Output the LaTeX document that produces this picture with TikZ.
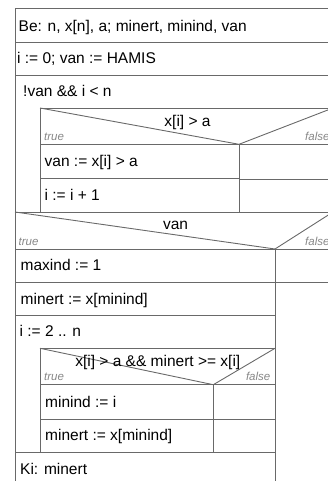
\documentclass[tikz,border=0pt]{standalone}
\usepackage{fontspec}
\setmainfont{Liberation Sans}
\definecolor{linegray}{RGB}{105,105,105}
\definecolor{labelgray}{RGB}{135,135,135}
\begin{document}
\begin{tikzpicture}[x=1pt,y=-1pt,
  rule/.style={draw=linegray, line width=0.9pt},
  stmt/.style={anchor=base west, inner sep=0pt, font=\fontsize{15.5}{18}\selectfont},
  cond/.style={anchor=base, inner sep=0pt, font=\fontsize{15.5}{18}\selectfont},
  branch/.style={anchor=base west, inner sep=0pt, text=labelgray,
                 font=\itshape\fontsize{11.5}{13}\selectfont}]
\useasboundingbox (0,0) rectangle (328,481);
\clip (0,0) rectangle (328,481);

% key corners of the structogram
\coordinate (apexA) at (239,144.3);   % inner if  x[i] > a
\coordinate (apexB) at (275,249);     % if van
\coordinate (apexC) at (213.3,384.7); % inner if in the for loop

% outer frame and sequence rows
\draw[rule] (333,8.3) -- (15,8.3) -- (15,490);
\draw[rule] (15,42) -- (333,42);
\draw[rule] (15,75) -- (333,75);

% while loop body
\draw[rule] (40,212) -- (40,108) -- (333,108);
% if x[i] > a
\draw[rule] (40,108) -- (apexA) -- (333,108);
\draw[rule] (40,144.3) -- (333,144.3);
\draw[rule] (apexA) -- (239,212);
\draw[rule] (40,178.3) -- (239,178.3);
\draw[rule] (239,179.3) -- (333,179.3);
\draw[rule] (15,212) -- (333,212);

% if van
\draw[rule] (15,212) -- (apexB) -- (333,212);
\draw[rule] (15,249) -- (333,249);
\draw[rule] (apexB) -- (275,490);
\draw[rule] (15,282.3) -- (275,282.3);
\draw[rule] (275,282.8) -- (333,282.8);
\draw[rule] (15,315) -- (275,315);

% for loop body
\draw[rule] (40,452.3) -- (40,348.3) -- (275,348.3);
% if x[i] > a && minert >= x[i]
\draw[rule] (40,348.3) -- (apexC) -- (275,348.3);
\draw[rule] (40,384.7) -- (275,384.7);
\draw[rule] (apexC) -- (213.3,452.3);
\draw[rule] (40,419) -- (213.3,419);
\draw[rule] (213.3,419.5) -- (275,419.5);
\draw[rule] (15,452.3) -- (275,452.3);

% texts
\node[stmt] (be)   at (18.5,31.7)  {Be: n, x[n], a; minert, minind, van};
\node[stmt] (init) at (17,63.3)    {i := 0; van := HAMIS};
\node[stmt] (wh)   at (23,96.7)    {!van \&\& i < n};
\node[cond] (c1)   at (187.5,126.7) {x[i] > a};
\node[branch] (t1) at (44,140.7)   {true};
\node[branch] (f1) at (305,140.7)  {false};
\node[stmt] (s1)   at (44.5,166.7) {van := x[i] > a};
\node[stmt] (s2)   at (44.5,200)   {i := i + 1};
\node[cond] (c2)   at (175.5,229.3) {van};
\node[branch] (t2) at (18.5,245)   {true};
\node[branch] (f2) at (305,245)    {false};
\node[stmt] (s3)   at (20.5,270.7) {maxind := 1};
\node[stmt] (s4)   at (20.5,304)   {minert := x[minind]};
\node[stmt] (fr)   at (19.5,336.7) {i := 2 .. n};
\node[cond] (c3)   at (157.8,366.7) {x[i] > a \&\& minert >= x[i]};
\node[branch] (t3) at (44,380.7)   {true};
\node[branch, anchor=base east] (f3) at (270.5,380.7) {false};
\node[stmt] (s5)   at (45,407.3)   {minind := i};
\node[stmt] (s6)   at (45,440.7)   {minert := x[minind]};
\node[stmt] (ki)   at (20,474)     {Ki: minert};
\end{tikzpicture}
\end{document}
